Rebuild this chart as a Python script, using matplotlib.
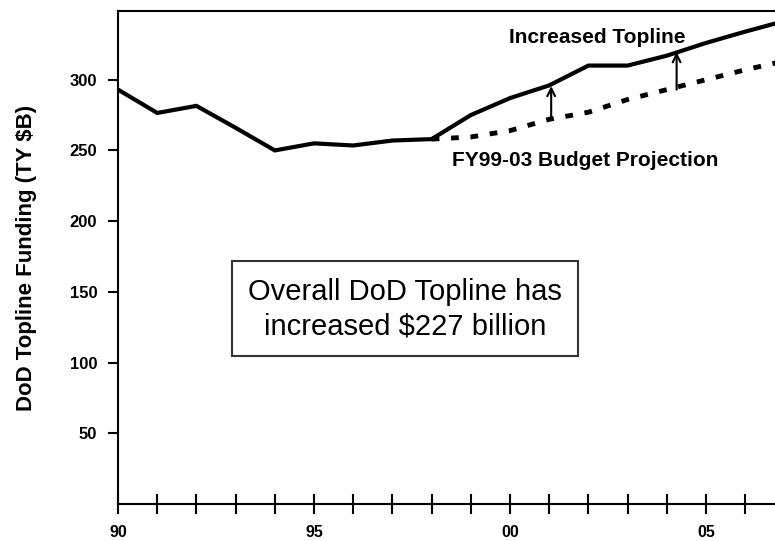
import matplotlib
matplotlib.use("Agg")
import numpy as np
from matplotlib import pyplot as plt

plt.rcParams['font.family'] = ['Liberation Sans', 'DejaVu Sans']

# fiscal years, counted from 1990 (90 -> 90, 00 -> 100)
topline_years = [90, 91, 92, 93, 94, 95, 96, 97, 98, 99, 100, 101, 102, 103, 104, 105, 106, 106.8]
topline_vals = [293, 276.5, 281.5, 266, 250, 255, 253.5, 257, 258, 275, 287, 296, 310, 310, 317, 326, 334, 340]

proj_years = [98, 99, 100, 101, 102, 103, 104, 105, 106, 106.8]
proj_vals = [258, 259.5, 264, 272, 277, 286, 293, 300, 307, 312]

# arrows: (year, from, to)
arrows = [(101.05, 271.5, 295.5), (104.25, 293, 319.5)]

ytick_vals = [50, 100, 150, 200, 250, 300]
xtick_years = list(range(90, 107))
xtick_labels = {90: "90", 95: "95", 100: "00", 105: "05"}

fig = plt.figure(figsize=(7.75, 5.41), dpi=100)
ax = fig.add_axes([0.1523, 0.0684, 0.8477, 0.9113])

ax.plot(topline_years, topline_vals, color='black', lw=3, solid_joinstyle='miter')
ax.plot(proj_years, proj_vals, color='black', lw=3.5, dashes=(1.6, 2.4))

for (yr, y0, y1) in arrows:
    ax.annotate('', xy=(yr, y1), xytext=(yr, y0),
                arrowprops=dict(arrowstyle='->', lw=1.5, color='black',
                                shrinkA=0, shrinkB=0, mutation_scale=14))

ax.text(102.22, 330, "Increased Topline", fontsize=15, fontweight='bold',
        ha='center', va='center')
ax.text(101.91, 243, "FY99-03 Budget Projection", fontsize=15, fontweight='bold',
        ha='center', va='center')

ax.text(97.32, 138, "Overall DoD Topline has\nincreased $227 billion", fontsize=21,
        ha='center', va='center', linespacing=1.3,
        bbox=dict(boxstyle='square,pad=0.55', facecolor='white', edgecolor='#333333', lw=1.5))

ax.set_xlim(90, 106.76)
ax.set_ylim(0, 348.6)

ax.spines['right'].set_visible(False)
for s in ['left', 'top', 'bottom']:
    ax.spines[s].set_linewidth(1.5)

ax.set_yticks(ytick_vals)
ax.set_yticklabels([str(v) for v in ytick_vals], fontsize=12, fontweight='bold')
ax.tick_params(axis='y', direction='out', length=7, width=1.5, pad=8)

ax.set_xticks(xtick_years)
ax.set_xticklabels([xtick_labels.get(y, "") for y in xtick_years], fontsize=11.5, fontweight='bold')
ax.tick_params(axis='x', direction='inout', length=14, width=1.5, pad=8)

ax.set_ylabel("DoD Topline Funding (TY $B)", fontsize=16, fontweight='bold')
ax.yaxis.set_label_coords(-0.123, 0.5)

fig.savefig("out.png", dpi=100)
